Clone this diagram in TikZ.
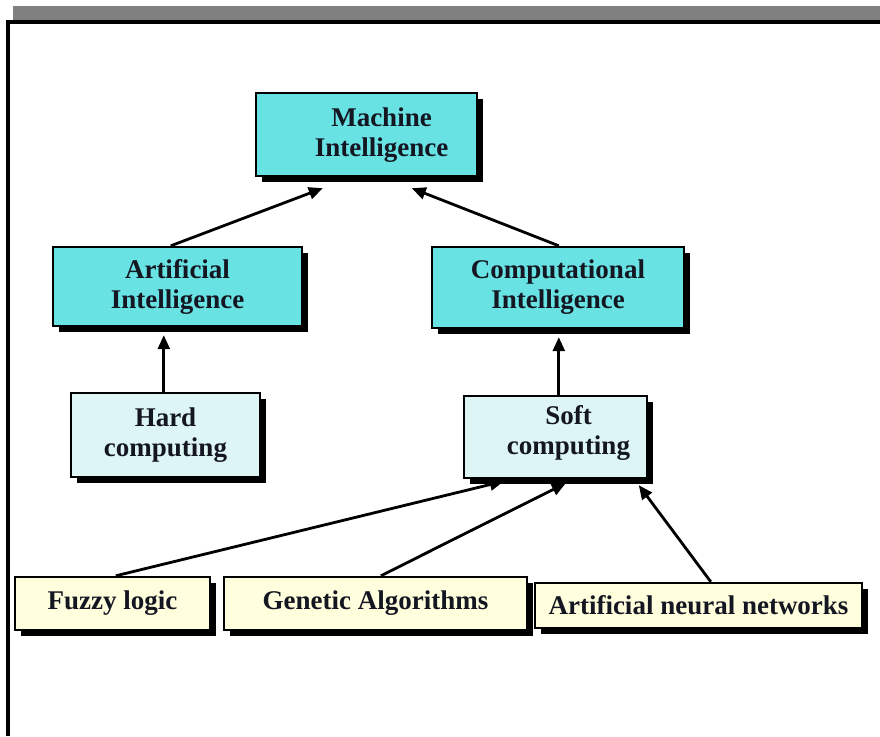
\documentclass[tikz,border=0pt]{standalone}
\usepackage{fontspec}
\setmainfont{Liberation Serif}
\usetikzlibrary{shadows,arrows.meta,calc}
\definecolor{cyanbox}{RGB}{104,226,226}
\definecolor{palecyan}{RGB}{222,245,245}
\definecolor{paleyellow}{RGB}{255,255,222}
\definecolor{barGray}{RGB}{128,128,128}
\definecolor{inkText}{RGB}{20,22,34}
\tikzset{
  conceptbox/.style={draw=black, line width=2.4pt, rectangle, inner sep=0pt,
    align=center, text=inkText, font=\fontsize{27}{30}\selectfont\bfseries,
    drop shadow={shadow xshift=6pt, shadow yshift=-6pt, fill=black, opacity=1}},
  boxtext/.style={inner sep=0pt, align=center, text=inkText,
    font=\fontsize{27}{30}\selectfont\bfseries},
  arr/.style={line width=2.8pt, -{Triangle[length=14pt,width=12pt]}}
}
\begin{document}
\begin{tikzpicture}[x=1pt,y=-1pt]
\useasboundingbox (0,0) rectangle (880,736);
\fill[white] (0,0) rectangle (880,736);
% slide frame
\fill[barGray] (13,6) rectangle (880,20);
\fill[black] (6,20) rectangle (880,23.5);
\fill[black] (6,20) rectangle (9.5,736);

% boxes
\node[conceptbox, fill=cyanbox, minimum width=221pt, minimum height=83pt] (mi) at (366.5,134.5) {};
\node[boxtext] (mitext) at ($(mi.center)+(15,1)$) {Machine\\Intelligence};
\node[conceptbox, fill=cyanbox, minimum width=249pt, minimum height=79pt] (ai) at (177.5,286.5) {Artificial\\Intelligence};
\node[conceptbox, fill=cyanbox, minimum width=252pt, minimum height=81pt] (ci) at (558,287.5) {Computational\\Intelligence};
\node[conceptbox, fill=palecyan, minimum width=189pt, minimum height=84pt] (hard) at (165.5,435) {Hard\\computing};
\node[conceptbox, fill=palecyan, minimum width=183pt, minimum height=82pt] (soft) at (555.5,437) {};
\node[boxtext] (softtext) at ($(soft.center)+(13,-4)$) {Soft\\computing};
\node[conceptbox, fill=paleyellow, minimum width=195pt, minimum height=53pt] (fuzzy) at (112.5,603.5) {Fuzzy logic};
\node[conceptbox, fill=paleyellow, minimum width=303pt, minimum height=53pt] (ga) at (375.5,603.5) {Genetic Algorithms};
\node[conceptbox, fill=paleyellow, minimum width=327pt, minimum height=45pt] (ann) at (698.5,605.5) {Artificial neural networks};

% connectors
\draw[arr] ($(ai.north west)+(119,0)$) -- ($(mi.south west)+(68,11)$);
\draw[arr] ($(ci.north west)+(128,0)$) -- ($(mi.south west)+(157,11)$);
\draw[arr] ($(hard.north west)+(94,0)$) -- ($(ai.south west)+(112,8)$);
\draw[arr] ($(soft.north west)+(96,0)$) -- ($(ci.south west)+(128,8)$);
\draw[arr] ($(fuzzy.north west)+(102,0)$) -- ($(soft.south west)+(41,2)$);
\draw[arr] ($(ga.north west)+(158,0)$) -- ($(soft.south west)+(103,4)$);
\draw[arr] ($(ann.north west)+(177,0)$) -- ($(soft.south west)+(176,6)$);
\end{tikzpicture}
\end{document}
